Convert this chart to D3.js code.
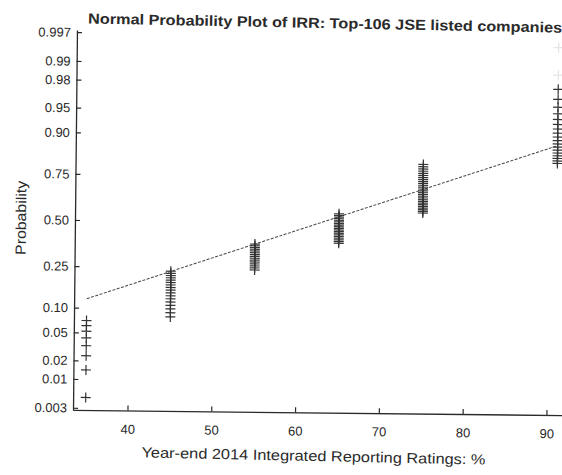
<!DOCTYPE html>
<html><head><meta charset="utf-8">
<script src="https://cdn.jsdelivr.net/npm/d3@7"></script>
<style>
html,body{margin:0;padding:0;background:#fff;}
svg{display:block;font-family:"Liberation Sans",Arial,sans-serif;}
</style></head>
<body>
<svg id="chart" width="562" height="475"></svg>
<script>
// ---- data ----
const ratings = [35, 45, 55, 65, 75, 91];          // IRR rating values (%)
const counts  = [8, 17, 15, 19, 27, 20];           // number of companies per rating (total 106)
const probTicks  = [0.003, 0.01, 0.02, 0.05, 0.10, 0.25, 0.50, 0.75, 0.90, 0.95, 0.98, 0.99, 0.997];
const probLabels = ["0.003","0.01","0.02","0.05","0.10","0.25","0.50","0.75","0.90","0.95","0.98","0.99","0.997"];
const xTicks = [40, 50, 60, 70, 80, 90];
const refLineX = [35, 91];
const refLineP = [0.125, 0.877];

// inverse normal CDF (Acklam)
function normInv(p){
  const a=[-3.969683028665376e+01,2.209460984245205e+02,-2.759285104469687e+02,1.383577518672690e+02,-3.066479806614716e+01,2.506628277459239e+00];
  const b=[-5.447609879822406e+01,1.615858368580409e+02,-1.556989798598866e+02,6.680131188771972e+01,-1.328068155288572e+01];
  const c=[-7.784894002430293e-03,-3.223964580411365e-01,-2.400758277161838e+00,-2.549732539343734e+00,4.374664141464968e+00,2.938163982698783e+00];
  const d=[7.784695709041462e-03,3.224671290700398e-01,2.445134137142996e+00,3.754408661907416e+00];
  const pl=0.02425, ph=1-pl; let q,r;
  if(p<pl){q=Math.sqrt(-2*Math.log(p));return (((((c[0]*q+c[1])*q+c[2])*q+c[3])*q+c[4])*q+c[5])/((((d[0]*q+d[1])*q+d[2])*q+d[3])*q+1);}
  if(p<=ph){q=p-0.5;r=q*q;return (((((a[0]*r+a[1])*r+a[2])*r+a[3])*r+a[4])*r+a[5])*q/(((((b[0]*r+b[1])*r+b[2])*r+b[3])*r+b[4])*r+1);}
  q=Math.sqrt(-2*Math.log(1-p));return -(((((c[0]*q+c[1])*q+c[2])*q+c[3])*q+c[4])*q+c[5])/((((d[0]*q+d[1])*q+d[2])*q+d[3])*q+1);
}

// expand to sorted sample and plotting positions (i-0.5)/n
const sample = [];
ratings.forEach((v,k)=>{ for(let j=0;j<counts[k];j++) sample.push(v); });
const n = sample.length;
const pts = sample.map((v,i)=>({x:v, p:(i+0.5)/n, i:i}));

const svg = d3.select("#chart");
const g = svg.append("g").attr("transform","rotate(0.6,318,220)");

const x = d3.scaleLinear().domain([33.5, 92.5]).range([75, 569.4]);
const y = d3.scaleLinear().domain([-2.78, 2.78]).range([412.5, 32.5]);

const ink = "#2a2a2a";

// y axis
const ya = g.append("g").attr("transform","translate(75,0)")
  .call(d3.axisLeft(y).tickValues(probTicks.map(normInv))
    .tickFormat((d,i)=>probLabels[i]).tickSizeInner(-5).tickSizeOuter(0).tickPadding(6));
// x axis
const xa = g.append("g").attr("transform","translate(0,412.5)")
  .call(d3.axisBottom(x).tickValues(xTicks).tickFormat(d3.format("d"))
    .tickSizeInner(-5).tickSizeOuter(0).tickPadding(14));
[ya,xa].forEach(a=>{
  a.selectAll("path").attr("stroke",ink).attr("stroke-width",1.3);
  a.selectAll("line").attr("stroke",ink).attr("stroke-width",1.2);
  a.selectAll("text").attr("fill",ink).style("font-size","13px")
   .style("font-family","'Liberation Sans',Arial,sans-serif");
});

// reference line
g.append("line")
  .attr("x1",x(refLineX[0])).attr("y1",y(normInv(refLineP[0])))
  .attr("x2",x(refLineX[1])).attr("y2",y(normInv(refLineP[1])))
  .attr("stroke","#444").attr("stroke-width",1).attr("stroke-dasharray","3,1.5");

// points as '+' (top two are barely visible in the scanned original)
const arm = 5;
g.append("g").selectAll("path").data(pts).join("path")
  .attr("d",d=>{const cx=x(d.x), cy=y(normInv(d.p));
    return `M${cx-arm},${cy}H${cx+arm}M${cx},${cy-arm}V${cy+arm}`;})
  .attr("stroke",d=> d.i >= n-2 ? "#e4e4e4" : "#333")
  .attr("stroke-width",1.2).attr("fill","none");

// title
g.append("text").attr("x",323).attr("y",28).attr("text-anchor","middle")
  .attr("transform","rotate(0.5,323,24)")
  .attr("fill",ink).style("font-size","14.5px").style("font-weight","bold")
  .attr("textLength",474).attr("lengthAdjust","spacingAndGlyphs")
  .text("Normal Probability Plot of IRR: Top-106 JSE listed companies");
// x label
g.append("text").attr("x",316).attr("y",461).attr("text-anchor","middle")
  .attr("transform","rotate(0.6,316,456)")
  .attr("fill",ink).style("font-size","14.5px")
  .attr("textLength",344).attr("lengthAdjust","spacingAndGlyphs")
  .text("Year-end 2014 Integrated Reporting Ratings: %");
// y label
g.append("text").attr("transform","translate(26,221) rotate(-90)").attr("text-anchor","middle")
  .attr("fill",ink).style("font-size","14.5px")
  .attr("textLength",74).attr("lengthAdjust","spacingAndGlyphs")
  .text("Probability");
</script>
</body></html>
